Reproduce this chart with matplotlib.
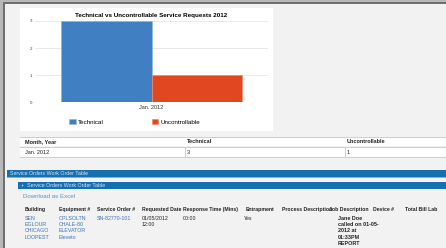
import matplotlib
matplotlib.use("Agg")
import matplotlib.pyplot as plt
from matplotlib.patches import Rectangle
import numpy as np

# ---- data ----
categories = ["Jan. 2012"]
series_names = ["Technical", "Uncontrollable"]
technical = [3]
uncontrollable = [1]
y_ticks = [0, 1, 2, 3]
chart_title = "Technical vs Uncontrollable Service Requests 2012"
table_cols = ["Month, Year", "Technical", "Uncontrollable"]
table_rows = [["Jan. 2012", "3", "1"]]
wo_cols = ["Building", "Equipment #", "Service Order #", "Requested Date",
           "Response Time (Mins)", "Entrapment", "Process Description",
           "Job Description", "Device #", "Total Bill Lab"]

W, H = 446, 248
fig = plt.figure(figsize=(W / 100, H / 100), dpi=100)
fig.patch.set_facecolor("#f2f2f2")
plt.rcParams['font.family'] = ['Liberation Sans', 'DejaVu Sans']

def fx(x): return x / W
def fy(y): return 1 - y / H

def rect(x0, y0, x1, y1, color, z=0, lw=0, ec=None):
    fig.patches.append(Rectangle((fx(x0), fy(y1)), fx(x1) - fx(x0), fy(y0) - fy(y1),
                                 transform=fig.transFigure, facecolor=color,
                                 edgecolor=ec if ec else color, linewidth=lw, zorder=z))

def txt(x, y, s, size=3.2, color="#222222", weight="normal", ha="left", va="center",
        ls=1.0):
    fig.text(fx(x), fy(y), s, fontsize=size, color=color, weight=weight,
             ha=ha, va=va, zorder=5, linespacing=ls)

# outer frame
rect(0, 0, W, 3, "#b8b8b8", z=1)
rect(0, 0, 4, H, "#b8b8b8", z=1)
rect(3, 2, W, 4, "#6f6f6f", z=1)
rect(3, 2, 5, H, "#6f6f6f", z=1)

# white chart panel
rect(20, 8, 273, 131, "#ffffff", z=1)

# chart axes
ax = fig.add_axes([fx(35), fy(102), fx(268) - fx(35), fy(21) - fy(102)])
ax.set_zorder(3)
ax.set_facecolor("#ffffff")
x = np.arange(len(categories))
bw = 0.39
ax.bar(x - bw / 2, technical, bw, color="#3f7fc2", edgecolor="#8fb8e0",
       linewidth=0.5, label=series_names[0], zorder=3)
ax.bar(x + bw / 2, uncontrollable, bw, color="#e2481f", edgecolor="#f08a6a",
       linewidth=0.5, label=series_names[1], zorder=3)
ax.set_xlim(-0.5, 0.5)
ax.set_ylim(0, 3)
ax.set_yticks(y_ticks)
ax.set_yticklabels([str(t) for t in y_ticks], fontsize=3.2, color="#444444")
ax.set_xticks(x)
ax.set_xticklabels(categories, fontsize=4, color="#333333")
ax.tick_params(length=0, pad=2)
ax.grid(axis="y", color="#e6e6e6", linewidth=0.6, zorder=0)
for s in ax.spines.values():
    s.set_visible(False)
ax.axhline(0, color="#cccccc", linewidth=0.6, zorder=4)
ax.set_title(chart_title, fontsize=4.5, weight="bold", pad=3)
leg = fig.legend(loc="center", bbox_to_anchor=(fx(135), fy(122)), ncol=2,
                 fontsize=4.5, frameon=False, handlelength=1.0, handleheight=0.9,
                 columnspacing=7.7, handletextpad=0.4)
leg.set_zorder(6)

# summary table
rect(20, 137, W, 146, "#ffffff", z=1)
rect(20, 148, W, 157, "#ffffff", z=1)
for yy in (137, 147, 157):
    rect(20, yy, W, yy + 0.6, "#cfcfcf", z=2)
for xx in (185, 345):
    rect(xx, 148, xx + 0.6, 157, "#cfcfcf", z=2)
colx = [25, 187, 347]
for cx, c in zip(colx, table_cols):
    txt(cx, 141.5, c, size=4, weight="bold")
for cx, v in zip(colx, table_rows[0]):
    txt(cx, 152.5, v, size=4)

# blue section bars
rect(7, 170, W, 177, "#156fb3", z=1)
rect(7, 177, W, 178, "#7fb2d9", z=1)
txt(10, 173.5, "Service Orders Work Order Table", size=3.8, color="#d8e8f5")
rect(18, 182, W, 189, "#156fb3", z=1)
txt(21, 185.5, "+  Service Orders Work Order Table", size=3.8, color="#d8e8f5")

# download link
txt(23, 196, "Download as Excel", size=4.4, color="#5b8fc7")

# work-order header
hx = [25, 59, 97, 142, 183, 246, 282, 329, 373, 405]
for cx, c in zip(hx, wo_cols):
    txt(cx, 209.5, c, size=3.7, weight="bold")

link = "#3a72b8"
txt(25, 216, "SEN\nEGLOUR\nCHICAGO\nLOOPEST", size=3.8, color=link, va="top", ls=1.3)
txt(59, 216, "OPLSOLTN\nCHALE-80\nELEVATOR\nEleveto", size=3.8, color=link, va="top", ls=1.3)
txt(97, 216, "SN-82770-101", size=3.8, color=link, va="top", ls=1.3)
txt(142, 216, "01/05/2012\n12:00", size=3.8, va="top", ls=1.3)
txt(183, 216, "00:00", size=3.8, va="top", ls=1.3)
txt(244, 216, "Yes", size=3.8, va="top", ls=1.3)
txt(338, 216, "Jane Doe\ncalled on 01-05-\n2012 at\n01:33PM\nREPORT", size=3.9,
    weight="bold", va="top", ls=1.3)

fig.savefig("out.png", dpi=100, facecolor=fig.get_facecolor())
